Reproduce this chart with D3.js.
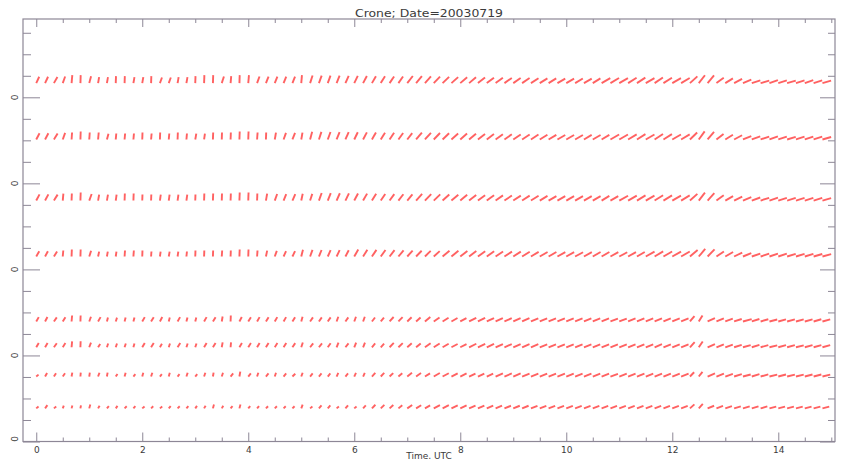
<!DOCTYPE html>
<html><head><meta charset="utf-8">
<script src="https://cdn.jsdelivr.net/npm/d3@7"></script>
<style>html,body{margin:0;padding:0;background:#fff;}svg{display:block}</style>
</head><body><svg id="c" width="841" height="459"></svg>
<script>
const title = "Crone; Date=20030719";
const xLabel = "Time, UTC";
const xTicks = [0, 2, 4, 6, 8, 10, 12, 14];
const xMinor = [0.5,1,1.5,2.5,3,3.5,4.5,5,5.5,6.5,7,7.5,8.5,9,9.5,10.5,11,11.5,12.5,13,13.5,14.5,15];
const yTicks = [0, 2, 4, 6, 8];
const yTickLabels = ["0", "0", "0", "0", "0"];
const yMinor = [0.5,1,1.5,2.5,3,3.5,4.5,5,5.5,6.5,7,7.5,8.5,9,9.5];
// measurement levels (one row of sticks per level)
const levels = [8.33, 7.02, 5.6, 4.3, 2.79, 2.19, 1.51, 0.77];
// 10-minute time steps, 0 .. 14h50
const times = d3.range(90).map(i => i / 6);

// direction of stick (deg from horizontal) and speed, per level
const dir1 = [65,65,60,70,85,88,75,80,80,88,88,80,80,88,70,70,80,80,88,88,88,72,85,88,85,70,68,68,68,68,
              85,72,70,70,68,66,64,62,60,58,56,55,52,50,48,46,44,42,40,40,38,37,36,35,35,34,33,32,32,30,
              30,31,30,32,30,31,30,32,33,30,34,32,30,31,42,52,50,36,32,28,22,18,16,20,18,16,18,20,18,16];
const spd1 = [7,7,7,7,8,8,7,6,6,7,7,6,6,7,6,6,6,6,7,8,8,7,7,8,8,7,7,7,7,7,
              8,8,8,8,8,8,8,8,8,8,8,8,9,9,9,9,9,9,9,9,9,9,9,9,9,9,9,9,9,9,
              9,9,9,9,10,10,10,10,10,10,10,10,10,10,10,10,10,9,9,9,9,9,9,9,9,9,9,9,9,9];
const dir2 = [62,62,58,70,86,88,86,85,75,85,85,85,88,85,88,85,88,85,80,82,88,88,88,88,88,86,88,80,70,68,
              80,75,72,70,68,66,64,62,60,58,56,54,52,50,48,46,44,42,41,40,38,37,36,35,34,33,33,32,31,30,
              30,30,31,30,31,30,30,31,32,30,33,32,30,31,44,54,50,38,32,28,22,20,18,20,18,17,18,19,18,16];
const spd2 = [7,7,7,7,7,8,7,7,6,6,6,6,7,6,7,6,7,6,6,6,7,7,7,8,8,7,7,7,7,7,
              7,8,8,8,8,8,8,8,8,8,8,8,8,9,9,9,9,9,9,9,9,9,9,9,9,9,9,9,9,9,
              9,9,9,9,9,10,10,10,10,10,10,10,10,10,10,10,10,9,9,9,9,9,9,9,9,9,9,9,9,9];
const dir3 = [62,62,58,85,88,88,70,80,80,82,88,88,88,88,82,82,82,82,88,88,88,88,88,88,88,88,80,70,68,66,
              78,72,70,68,66,64,62,60,58,56,54,52,50,48,46,44,42,40,40,38,37,36,35,34,33,33,32,31,30,30,
              30,29,30,30,31,30,29,30,31,30,32,31,30,31,42,52,48,36,30,26,22,20,18,19,18,17,17,18,17,16];
const spd3 = [7,7,7,7,7,8,7,6,6,6,7,7,6,6,6,6,6,6,6,7,7,7,7,8,8,7,7,7,7,7,
              7,7,8,8,8,8,8,8,8,8,8,8,8,9,9,9,9,9,9,9,9,9,9,9,9,9,9,9,9,9,
              9,9,9,9,9,9,10,10,10,10,10,10,10,10,10,10,10,9,9,9,9,9,9,9,9,9,9,9,9,9];
const dir4 = [60,62,58,85,88,88,72,78,80,82,86,86,88,86,82,80,82,84,88,88,88,86,88,88,88,86,78,70,66,64,
              76,70,68,66,64,62,60,58,56,54,52,50,48,46,44,42,40,39,38,37,36,35,34,33,33,32,31,30,30,29,
              29,28,29,30,30,29,28,29,30,29,31,30,29,30,40,50,46,34,30,26,22,19,18,19,18,17,17,17,16,15];
const spd4 = [6,6,6,6,7,7,6,5,5,5,6,6,6,5,5,5,5,5,6,6,6,6,6,7,7,6,6,6,6,6,
              7,7,7,7,7,7,8,8,8,8,8,8,8,8,8,8,9,9,9,9,9,9,9,9,9,9,9,9,9,9,
              9,9,9,9,9,9,9,9,9,10,10,10,10,10,10,10,10,9,9,9,9,9,9,9,9,9,9,9,9,9];
const dir5 = [60,62,55,58,85,88,70,60,75,72,75,75,60,58,62,75,60,75,75,60,58,80,88,62,58,60,58,60,60,58,
              75,55,55,55,70,55,70,70,52,50,48,46,44,42,40,35,32,30,28,27,26,25,25,24,24,24,23,23,22,22,
              22,22,22,22,22,21,21,22,22,22,23,23,22,22,50,58,24,22,20,18,15,18,16,14,15,15,15,15,16,15];
const spd5 = [5,5,5,5,6,6,5,5,4,4,4,4,5,5,5,4,5,4,4,5,5,5,6,5,5,5,5,5,5,5,
              5,5,5,5,5,5,5,5,5,5,6,6,6,6,7,7,7,7,7,8,8,8,8,8,8,8,8,8,8,8,
              8,8,8,8,8,8,8,8,8,8,8,8,8,8,7,7,8,8,8,8,9,8,8,8,8,8,8,8,8,8];
const dir6 = [60,60,55,58,85,88,70,58,72,72,72,75,60,58,60,72,58,72,72,60,58,80,85,60,58,60,58,58,58,56,
              72,52,52,55,68,52,68,68,50,48,46,44,42,40,36,33,30,28,27,26,25,25,24,24,23,23,23,22,22,22,
              22,22,21,22,21,21,21,22,22,22,23,22,22,22,48,56,24,22,20,18,15,17,16,14,15,15,14,15,15,15];
const spd6 = [5,5,5,5,6,6,5,4,4,4,4,4,5,5,4,4,5,4,4,5,5,5,5,5,5,5,5,5,5,5,
              5,5,5,5,5,5,5,5,5,5,6,6,6,6,7,7,7,7,7,8,8,8,8,8,8,8,8,8,8,8,
              8,8,8,8,8,8,8,8,8,8,8,8,8,8,7,7,8,8,8,8,8,8,8,8,8,8,8,8,8,8];
const dir7 = [40,60,58,55,80,85,82,70,80,55,75,50,75,72,50,75,50,72,50,72,80,72,50,80,50,72,50,72,50,45,
              70,50,50,50,65,50,65,65,48,46,44,40,38,35,32,30,28,27,26,25,25,24,24,23,23,22,22,22,21,21,
              21,21,21,21,21,20,21,21,21,21,22,22,21,21,46,52,23,21,19,17,15,17,16,14,15,14,14,15,15,14];
const spd7 = [3,4,4,4,4,4,4,4,4,3,4,3,4,4,3,4,3,4,3,4,4,4,4,5,4,4,4,4,4,4,
              4,4,4,4,4,4,4,4,5,5,5,5,6,6,6,7,7,7,7,7,7,7,8,8,8,8,8,8,8,8,
              8,8,8,8,8,8,8,8,8,8,8,8,8,8,6,6,8,8,8,8,8,8,8,8,8,8,8,8,8,8];
const dir8 = [40,55,40,70,75,80,75,60,50,55,45,50,40,45,40,50,45,50,55,60,75,60,50,75,50,50,45,45,45,45,
              70,40,50,50,40,50,40,48,46,44,42,40,35,32,30,28,27,26,25,24,24,23,23,22,22,22,21,21,21,20,
              20,20,20,21,20,20,20,20,21,21,21,21,20,20,42,48,22,20,19,17,16,17,16,15,15,14,14,15,15,14];
const spd8 = [3,4,3,3,3,3,4,3,3,3,3,3,3,3,3,3,3,3,3,3,4,3,3,4,3,3,3,3,3,3,
              4,3,4,4,3,4,3,4,5,5,5,5,6,6,6,7,7,7,7,7,7,7,7,7,7,7,7,7,7,7,
              7,7,7,7,7,7,7,7,7,7,7,7,7,7,6,6,7,7,7,7,7,7,7,7,7,7,7,7,7,7];

const dirs = [dir1, dir2, dir3, dir4, dir5, dir6, dir7, dir8];
const spds = [spd1, spd2, spd3, spd4, spd5, spd6, spd7, spd8];

const svg = d3.select("#c");
const L = 23, R = 835, T = 19, B = 441.5;
const axisCol = "#8d8796", textCol = "#3a3a3a";
const x = d3.scaleLinear().domain([-0.25, 15.07]).range([L, R]);
const y = d3.scaleLinear().domain([0, 9.82]).range([B, T]);
const len = d3.scaleLinear().domain([0, 10]).range([0, 10]);

svg.append("rect").attr("width", 841).attr("height", 459).attr("fill", "#fff");

// sticks
const g = svg.append("g");
levels.forEach((lv, r) => {
  const rows = times.map((t, i) => ({t, d: dirs[r][i], s: spds[r][i]}));
  g.selectAll(null).data(rows).enter().append("line")
    .attr("x1", d => x(d.t)).attr("y1", y(lv))
    .attr("x2", d => x(d.t) + len(d.s) * Math.cos(d.d * Math.PI / 180))
    .attr("y2", d => y(lv) - len(d.s) * Math.sin(d.d * Math.PI / 180))
    .attr("stroke", "#ff3a3a").attr("stroke-width", 1.9)
    .attr("stroke-opacity", 0.8).attr("stroke-linecap", "butt");
});

function styleAxis(sel) {
  sel.select(".domain").remove();
  sel.selectAll("line").attr("stroke", axisCol).attr("stroke-width", 1);
  sel.selectAll("text").attr("fill", textCol).attr("font-family", "DejaVu Sans, sans-serif").attr("font-size", 9);
}

// bottom axis
svg.append("g").attr("transform", `translate(0,${B})`)
  .call(d3.axisBottom(x).tickValues(xTicks).tickSize(-9).tickPadding(5).tickFormat(d3.format("d")))
  .call(styleAxis);
svg.append("g").attr("transform", `translate(0,${B})`)
  .call(d3.axisBottom(x).tickValues(xMinor).tickSize(-4).tickFormat(""))
  .call(styleAxis);
// top axis
svg.append("g").attr("transform", `translate(0,${T})`)
  .call(d3.axisTop(x).tickValues(xTicks).tickSize(-8).tickFormat(""))
  .call(styleAxis);
svg.append("g").attr("transform", `translate(0,${T})`)
  .call(d3.axisTop(x).tickValues(xMinor).tickSize(-4).tickFormat(""))
  .call(styleAxis);
// left axis
svg.append("g").attr("transform", `translate(${L},0)`)
  .call(d3.axisLeft(y).tickValues(yTicks).tickSize(-17).tickFormat(""))
  .call(styleAxis);
svg.append("g").attr("transform", `translate(${L},0)`)
  .call(d3.axisLeft(y).tickValues(yMinor).tickSize(-8).tickFormat(""))
  .call(styleAxis);
// right axis
svg.append("g").attr("transform", `translate(${R},0)`)
  .call(d3.axisRight(y).tickValues(yTicks).tickSize(-15).tickFormat(""))
  .call(styleAxis);
svg.append("g").attr("transform", `translate(${R},0)`)
  .call(d3.axisRight(y).tickValues(yMinor).tickSize(-7).tickFormat(""))
  .call(styleAxis);

// y labels (rotated)
svg.append("g").selectAll("text").data(yTicks).enter().append("text")
  .attr("transform", (d, i) => `translate(18,${Math.min(y(d), B - 2.5)}) rotate(-90)`)
  .attr("text-anchor", "middle")
  .attr("fill", textCol).attr("font-family", "DejaVu Sans, sans-serif").attr("font-size", 9)
  .text((d, i) => yTickLabels[i]);

// frame
svg.append("rect").attr("x", L).attr("y", T).attr("width", R - L).attr("height", B - T)
  .attr("fill", "none").attr("stroke", axisCol).attr("stroke-width", 1.2);

// title & x label
svg.append("text").attr("x", (L + R) / 2).attr("y", 16.5).attr("text-anchor", "middle")
  .attr("fill", textCol).attr("font-family", "DejaVu Sans, sans-serif").attr("font-size", 10.5)
  .attr("textLength", 148).attr("lengthAdjust", "spacingAndGlyphs").text(title);
svg.append("text").attr("x", (L + R) / 2).attr("y", 458.5).attr("text-anchor", "middle")
  .attr("fill", textCol).attr("font-family", "DejaVu Sans, sans-serif").attr("font-size", 9)
  .text(xLabel);
</script></body></html>
